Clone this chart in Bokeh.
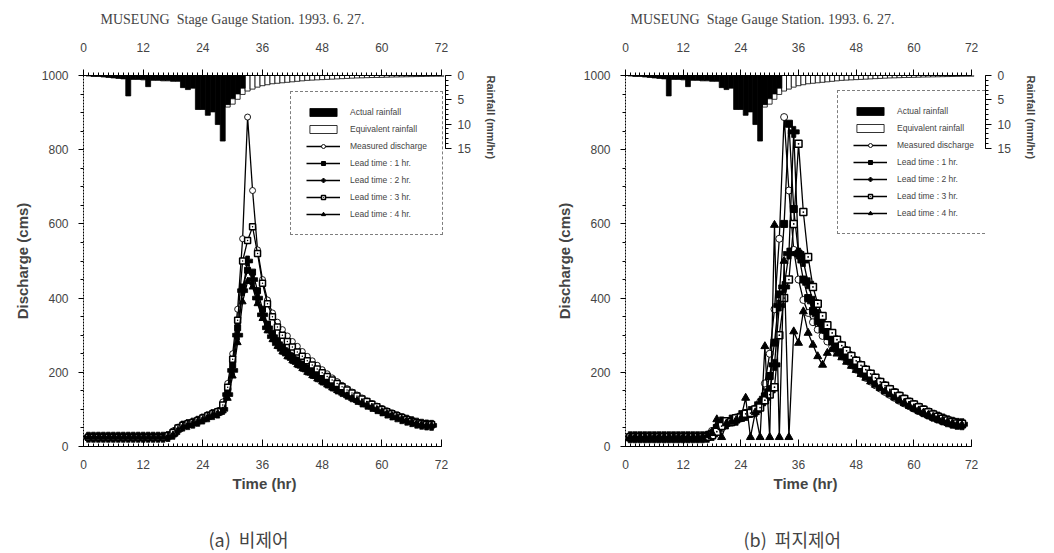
from bokeh.plotting import figure
from bokeh.models import Range1d, LinearAxis, FixedTicker, Legend, LegendItem, Title
from bokeh.layouts import row
from bokeh.embed import file_html
from bokeh.resources import INLINE

# ---------------- data ----------------
hours = list(range(1, 71))

rain_hours = list(range(1, 33))
actual_rain = [0.1, 0.2, 0.2, 0.3, 0.4, 0.5, 0.6, 0.7, 4.2, 0.8, 0.8, 0.9, 2.3, 1.0, 1.0, 1.1,
               1.1, 1.2, 1.2, 2.5, 2.9, 2.6, 7.0, 7.0, 8.2, 7.5, 10.1, 13.5, 6.0, 4.8, 3.8, 2.6]

eq_hours = list(range(29, 73))
equiv_rain = [6.5, 5.9, 4.9, 3.9, 3.2, 2.8, 2.4, 2.1, 1.9, 1.7, 1.6, 1.5, 1.4, 1.3, 1.2, 1.1,
              1.0, 0.95, 0.9, 0.85, 0.8, 0.75, 0.7, 0.65, 0.6, 0.55, 0.5, 0.48, 0.45, 0.42,
              0.4, 0.38, 0.35, 0.32, 0.3, 0.28, 0.26, 0.24, 0.22, 0.2, 0.18, 0.16, 0.15, 0.14]

measured = [25, 25, 25, 25, 25, 25, 25, 25, 25, 25, 25, 25, 25, 25, 25, 26,
            30, 42, 52, 58, 62, 66, 72, 78, 84, 88, 95, 120, 170, 250, 370, 560, 888, 690,
            530, 450, 395, 360, 335, 315, 298, 283, 270, 256, 243, 231, 219, 207, 196, 185,
            175, 165, 156, 147, 139, 131, 123, 116, 109, 102, 96, 90, 84, 79, 74, 69, 65, 61, 59, 60]

# (a) no control
lead1_a = [25, 25, 25, 25, 25, 25, 25, 25, 25, 25, 25, 25, 25, 25, 25, 25,
           28, 35, 48, 56, 60, 64, 69, 75, 82, 87, 92, 105, 150, 220, 320, 430, 475, 470,
           420, 370, 330, 305, 285, 268, 255, 243, 232, 221, 211, 201, 192, 183, 175, 167,
           159, 151, 144, 137, 130, 123, 117, 110, 104, 98, 92, 87, 82, 77, 72, 68, 64, 60, 58, 58]
lead2_a = [25, 25, 25, 25, 25, 25, 25, 25, 25, 25, 25, 25, 25, 25, 25, 25,
           27, 33, 46, 55, 59, 63, 68, 74, 80, 86, 90, 100, 140, 205, 300, 420, 500, 450,
           400, 355, 320, 296, 277, 262, 249, 237, 226, 216, 206, 197, 188, 179, 171, 163,
           155, 148, 141, 134, 127, 120, 114, 108, 102, 96, 90, 85, 80, 75, 71, 67, 63, 60, 58, 57]
lead3_a = [25, 25, 25, 25, 25, 25, 25, 25, 25, 25, 25, 25, 25, 25, 25, 25,
           29, 38, 50, 57, 61, 65, 70, 77, 83, 88, 94, 112, 160, 235, 340, 500, 555, 592,
           520, 440, 385, 350, 322, 300, 283, 268, 255, 243, 231, 220, 209, 199, 189, 179,
           170, 161, 152, 144, 136, 128, 121, 114, 107, 100, 94, 88, 83, 78, 73, 68, 64, 61, 59, 59]
lead4_a = [25, 25, 25, 25, 25, 25, 25, 25, 25, 25, 25, 25, 25, 25, 25, 25,
           26, 31, 44, 53, 58, 62, 67, 72, 79, 85, 89, 96, 130, 190, 280, 390, 445, 430,
           385, 345, 312, 288, 270, 255, 242, 231, 220, 210, 200, 191, 182, 174, 166, 158,
           151, 144, 137, 130, 124, 118, 112, 106, 100, 94, 89, 84, 79, 74, 70, 66, 62, 59, 57, 57]

# (b) fuzzy control
lead1_b = [25, 25, 25, 25, 25, 25, 25, 25, 25, 25, 25, 25, 25, 25, 25, 25,
           27, 34, 50, 60, 64, 68, 73, 80, 86, 90, 97, 110, 135, 190, 280, 410, 600, 870,
           640, 520, 450, 400, 365, 338, 316, 298, 283, 268, 255, 242, 230, 218, 206, 195,
           184, 173, 163, 153, 144, 135, 127, 119, 112, 105, 98, 92, 86, 80, 75, 70, 66, 62, 59, 59]
lead2_b = [25, 25, 25, 25, 25, 25, 25, 25, 25, 25, 25, 25, 25, 25, 25, 25,
           26, 31, 45, 65, 62, 70, 72, 82, 85, 93, 96, 115, 130, 150, 220, 380, 430, 520,
           848, 520, 500, 440, 390, 355, 330, 310, 293, 278, 264, 250, 237, 225, 213, 201,
           190, 179, 169, 159, 150, 141, 132, 124, 116, 109, 102, 95, 89, 83, 78, 73, 68, 64, 61, 60]
lead3_b = [25, 25, 25, 25, 25, 25, 25, 25, 25, 25, 25, 25, 25, 25, 25, 25,
           26, 30, 40, 55, 68, 66, 76, 78, 88, 90, 100, 105, 125, 140, 160, 300, 400, 450,
           600, 816, 632, 511, 430, 385, 352, 327, 306, 288, 272, 258, 244, 231, 219, 207,
           196, 185, 174, 164, 154, 145, 136, 128, 120, 113, 106, 99, 92, 86, 80, 75, 70, 66, 62, 61]
lead4_b = [25, 25, 25, 25, 25, 25, 25, 25, 25, 25, 25, 25, 25, 25, 25, 25,
           30, 36, 73, 25, 62, 66, 70, 75, 131, 25, 92, 25, 270, 25, 597, 25, 500, 25,
           310, 279, 364, 306, 274, 243, 220, 252, 262, 250, 240, 228, 217, 206, 195, 185,
           175, 166, 157, 148, 140, 132, 124, 117, 110, 103, 97, 91, 85, 80, 75, 70, 66, 62, 59, 58]

x_ticks = [0, 12, 24, 36, 48, 60, 72]
q_ticks = [0, 200, 400, 600, 800, 1000]
rain_ticks = [0, 5, 10, 15]

TITLE = "MUSEUNG\u00a0 Stage Gauge Station. 1993. 6. 27."
SANS = "Liberation Sans"


def make_panel(caption, preds, b_left, b_right, x_end, legend_xy, msize,
               title_off, cap_off):
    p = figure(width=527, height=553, output_backend="svg", toolbar_location=None,
               x_range=Range1d(0, x_end), y_range=Range1d(0, 1000),
               x_axis_location=None, y_axis_location=None,
               min_border_left=b_left, min_border_right=b_right,
               min_border_top=75, min_border_bottom=106)
    p.outline_line_color = None
    p.xgrid.visible = False
    p.ygrid.visible = False
    p.extra_y_ranges = {"rain": Range1d(start=76.4, end=0)}

    # axes
    xb = LinearAxis(ticker=FixedTicker(ticks=x_ticks, minor_ticks=list(range(0, 73))),
                    axis_label="Time (hr)", bounds=(0, 72))
    xb.major_tick_in = 7
    xb.major_tick_out = 0
    xb.minor_tick_in = 3
    xb.minor_tick_out = 0
    xb.major_label_standoff = 13
    xb.axis_label_standoff = 3
    xb.major_label_text_font = SANS
    xb.major_label_text_font_size = "12px"
    xb.axis_label_text_font = SANS
    xb.axis_label_text_font_size = "15px"
    xb.axis_label_text_font_style = "bold"
    p.add_layout(xb, "below")

    # invisible spacer that pushes the caption down
    sp = LinearAxis(ticker=FixedTicker(ticks=[]), axis_label="\u00a0", bounds=(0, 72))
    sp.axis_line_color = None
    sp.major_tick_out = 0
    sp.minor_tick_out = 0
    sp.major_tick_in = 0
    sp.minor_tick_in = 0
    sp.major_label_standoff = 0
    sp.axis_label_standoff = 27
    sp.axis_label_text_font_size = "1px"
    p.add_layout(sp, "below")

    p.add_layout(Title(text=caption, align="left", offset=cap_off, vertical_align="top",
                       text_font="Noto Sans CJK KR", text_font_size="18px",
                       text_font_style="normal", standoff=0), "below")

    xt = LinearAxis(ticker=FixedTicker(ticks=x_ticks, minor_ticks=list(range(0, 73))),
                    bounds=(0, 72))
    xt.major_tick_in = 0
    xt.major_tick_out = 6
    xt.minor_tick_in = 0
    xt.minor_tick_out = 3
    xt.major_label_standoff = 18
    xt.major_label_text_font = SANS
    xt.major_label_text_font_size = "12px"
    p.add_layout(xt, "above")

    p.add_layout(Title(text=TITLE, align="left", offset=title_off, vertical_align="top",
                       text_font="Liberation Serif", text_font_size="14px",
                       text_font_style="normal", standoff=22), "above")

    yl = LinearAxis(ticker=FixedTicker(ticks=q_ticks, minor_ticks=list(range(0, 1001, 50))),
                    axis_label="Discharge (cms)")
    yl.major_tick_in = 0
    yl.major_tick_out = 5
    yl.minor_tick_in = 0
    yl.minor_tick_out = 3
    yl.major_label_standoff = 10
    yl.axis_label_standoff = 8
    yl.major_label_text_font = SANS
    yl.major_label_text_font_size = "12px"
    yl.axis_label_text_font = SANS
    yl.axis_label_text_font_size = "15px"
    yl.axis_label_text_font_style = "bold"
    yl.axis_line_dash = "2 1"
    p.add_layout(yl, "left")

    yr = LinearAxis(y_range_name="rain",
                    ticker=FixedTicker(ticks=rain_ticks, minor_ticks=list(range(0, 16))),
                    bounds=(0, 15))
    yr.major_tick_in = 0
    yr.major_tick_out = 6
    yr.minor_tick_in = 0
    yr.minor_tick_out = 3
    yr.major_label_standoff = 6
    yr.major_label_text_font = SANS
    yr.major_label_text_font_size = "12px"
    p.add_layout(yr, "right")

    p.add_layout(Title(text="Rainfall (mm/hr)", align="left", offset=0, standoff=22,
                       text_font=SANS, text_font_size="11px", text_font_style="bold"), "right")

    # hyetograph
    r_eq = p.vbar(x=eq_hours, top=0, bottom=equiv_rain, width=1.0, y_range_name="rain",
                  fill_color="white", line_color="black", line_width=0.8)
    r_act = p.vbar(x=rain_hours, top=0, bottom=actual_rain, width=1.0, y_range_name="rain",
                   fill_color="black", line_color="black", line_width=0.8)

    # discharge
    lw = 1.3
    l_m = p.line(hours, measured, line_color="black", line_width=lw)
    s_m = p.scatter(hours, measured, marker="circle", size=msize, fill_color="white",
                    line_color="black", line_width=0.9)
    markers = [("square", "black", 1.0, 0), ("plus", "black", 0.8, 4),
               ("square_dot", "white", 1.5, 0), ("triangle", "black", 1.0, 1)]
    items = [LegendItem(label="Actual rainfall", renderers=[r_act]),
             LegendItem(label="Equivalent rainfall", renderers=[r_eq]),
             LegendItem(label="Measured discharge", renderers=[l_m, s_m])]
    for i, (series, (mk, fc, mlw, extra)) in enumerate(zip(preds, markers)):
        l = p.line(hours, series, line_color="black", line_width=lw)
        s = p.scatter(hours, series, marker=mk, size=msize + extra,
                      fill_color=fc, line_color="black", line_width=mlw)
        items.append(LegendItem(label="Lead time : %d hr." % (i + 1), renderers=[l, s]))

    legend = Legend(items=items, location=legend_xy, margin=0, padding=15, spacing=7,
                    glyph_width=34, glyph_height=10, label_height=10, label_standoff=10,
                    label_text_font=SANS, label_text_font_size="8.5px",
                    border_line_color="black", border_line_dash="3 2", border_line_width=0.8,
                    background_fill_color="white", background_fill_alpha=1.0)
    p.add_layout(legend)
    return p


pa = make_panel("(a)\u00a0 비제어", [lead1_a, lead2_a, lead3_a, lead4_a],
                83, 82, 72.8, (207, 211), 6, 17, 125)
pb = make_panel("(b)\u00a0 퍼지제어", [lead1_b, lead2_b, lead3_b, lead4_b],
                98, 69, 74.9, (212, 212), 7, 5, 118)

layout = row(pa, pb)
open("out.html", "w").write(file_html(layout, INLINE))
